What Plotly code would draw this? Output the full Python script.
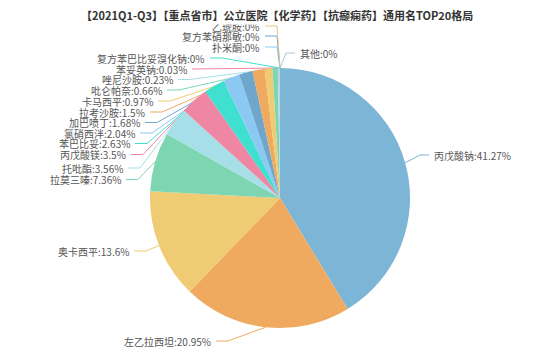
import math
import plotly.graph_objects as go

# ---------------- data ----------------
names = ["丙戊酸钠", "左乙拉西坦", "奥卡西平", "拉莫三嗪", "托吡酯", "丙戊酸镁", "苯巴比妥",
         "氯硝西泮", "加巴喷丁", "拉考沙胺", "卡马西平", "吡仑帕奈", "唑尼沙胺", "苯妥英钠",
         "复方苯巴比妥溴化钠", "扑米酮", "复方苯硝那敏", "乙琥胺", "其他"]
values = [41.27, 20.95, 13.6, 7.36, 3.56, 3.5, 2.63, 2.04, 1.68, 1.5, 0.97, 0.66, 0.23, 0.03,
          0, 0, 0, 0, 0]
title_text = "【2021Q1-Q3】【重点省市】公立医院【化学药】【抗癫痫药】通用名TOP20格局"

# ---------------- styles / layout ----------------
colors = ["#7cb5d5", "#f0aa5f", "#efcb73", "#7dd6b1", "#a6dfe8", "#ef86a3", "#40e0d0",
          "#8bc9f3", "#6fa6cc", "#f0aa5f", "#efcb73", "#7dd6b1", "#a6dfe8", "#ef86a3",
          "#40e0d0", "#8bc9f3", "#6fa6cc", "#e8c48a", "#a9c6dc"]
W, H = 553, 355
CX, CY, R = 280, 198, 130
label_side = ["r", "l", "l", "l", "l", "l", "l", "l", "l", "l", "l", "l", "l", "l",
              "l", "l", "l", "l", "r"]
label_x = [432, 213, 131, 123, 125, 128, 132, 137, 142, 147, 155, 164, 175, 189,
           207, 262, 262, 262, 298]
label_y = [155, 341, 251, 179.5, 168, 154.5, 143.5, 133, 122.5, 112, 101, 90, 79.5, 69,
           58, 47, 36, 26, 53]
FONT = "Noto Sans CJK SC, Noto Sans, sans-serif"

fig = go.Figure()

fig.add_trace(go.Pie(
    labels=names, values=values, sort=False, direction="clockwise", rotation=0,
    marker=dict(colors=colors, line=dict(width=0)),
    textinfo="none", showlegend=False,
    domain=dict(x=[(CX - R) / W, (CX + R) / W], y=[(H - CY - R) / H, (H - CY + R) / H]),
))

total = sum(values)
cum = 0.0
annotations = []
for i, (n, v) in enumerate(zip(names, values)):
    mid = (cum + v / 2) / total * 2 * math.pi
    cum += v
    ax_ = CX + R * math.sin(mid)
    ay_ = CY - R * math.cos(mid)
    ly = label_y[i]
    if label_side[i] == "l":
        bx = label_x[i] + 15
        cx_ = label_x[i] + 3
        xanchor = "right"
    else:
        bx = label_x[i] - 12
        cx_ = label_x[i] - 3
        xanchor = "left"
    fig.add_trace(go.Scatter(
        x=[ax_, bx, cx_], y=[ay_, ly, ly], mode="lines",
        line=dict(color=colors[i], width=1), hoverinfo="skip", showlegend=False,
    ))
    annotations.append(dict(
        x=label_x[i], y=ly, xref="x", yref="y", text=f"{n}:{v:g}%", showarrow=False,
        xanchor=xanchor, yanchor="middle", font=dict(family=FONT, size=10, color="#555555"),
    ))

annotations.append(dict(
    x=277, y=15, xref="x", yref="y", text="<b>" + title_text + "</b>", showarrow=False,
    xanchor="center", yanchor="middle", bgcolor="white", borderpad=1,
    font=dict(family=FONT, size=11, color="#333333"),
))

fig.update_layout(
    width=W, height=H, margin=dict(l=0, r=0, t=0, b=0),
    paper_bgcolor="white", plot_bgcolor="rgba(0,0,0,0)",
    xaxis=dict(range=[0, W], visible=False, domain=[0, 1], fixedrange=True),
    yaxis=dict(range=[H, 0], visible=False, domain=[0, 1], fixedrange=True),
    annotations=annotations,
)

fig.write_html("out.html")
